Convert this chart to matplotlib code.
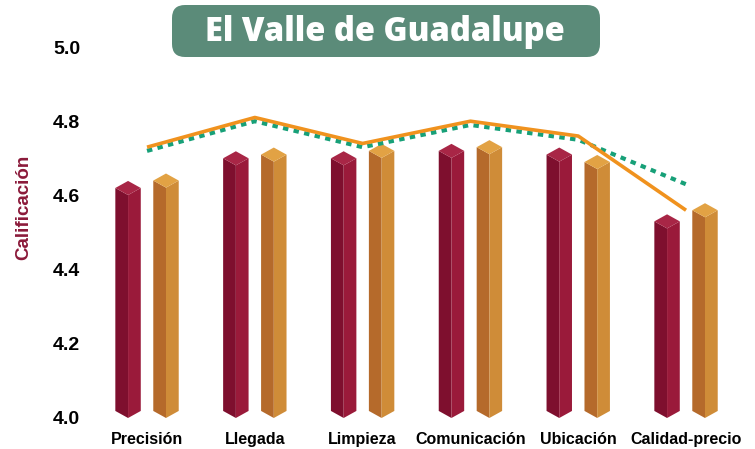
import matplotlib
matplotlib.use('Agg')
import matplotlib.pyplot as plt
from matplotlib.patches import FancyBboxPatch
from matplotlib.transforms import IdentityTransform

# Datos
categorias = ['Precisión', 'Llegada', 'Limpieza', 'Comunicación', 'Ubicación', 'Calidad-precio']
barras_rojas = [4.62, 4.70, 4.70, 4.72, 4.71, 4.53]
barras_naranjas = [4.64, 4.71, 4.72, 4.73, 4.69, 4.56]
linea_naranja = [4.73, 4.81, 4.74, 4.80, 4.76, 4.56]
linea_verde = [4.72, 4.80, 4.73, 4.79, 4.75, 4.63]
yticks = [4.0, 4.2, 4.4, 4.6, 4.8, 5.0]

ROJO = ('#7e0f2e', '#9a1a3a', '#a82646')
NARANJA = ('#b56a2b', '#cf8c38', '#e2a244')


def prisma(ax, c, v, w, d, base, colores):
    # prisma "isometrico": cara izq, cara der y tapa
    izq, der, tapa = colores
    top = v - d
    ax.fill([c - w, c, c, c - w], [base + d, base, top, top + d], color=izq, lw=0, zorder=2)
    ax.fill([c, c + w, c + w, c], [base, base + d, top + d, top], color=der, lw=0, zorder=2)
    ax.fill([c, c - w, c, c + w], [top, top + d, top + 2 * d, top + d], color=tapa, lw=0, zorder=2)


fig = plt.figure(figsize=(7.55, 4.49), dpi=100)
ax = fig.add_axes([90 / 755, 31 / 449, 655 / 755, 371 / 449])

x = list(range(len(categorias)))
off, w, d = 0.176, 0.118, 0.019
for i in x:
    prisma(ax, i - off, barras_rojas[i], w, d, 4.0, ROJO)
    prisma(ax, i + off, barras_naranjas[i], w, d, 4.0, NARANJA)

ax.plot(x, linea_verde, color='#17a078', lw=3, dashes=(1.3, 1.3), zorder=3)
ax.plot(x, linea_naranja, color='#f0921e', lw=2.6, zorder=4, solid_capstyle='butt')

ax.set_xlim(-0.529, 5.547)
ax.set_ylim(4.0, 5.0)
ax.set_yticks(yticks)
ax.set_yticklabels([f'{t:.1f}' for t in yticks], fontsize=14, fontweight='bold',
                   family='Liberation Sans')
ax.set_xticks(x)
ax.set_xticklabels(categorias, fontsize=11.5, fontweight='bold', family='Liberation Sans')
ax.tick_params(axis='x', length=0, pad=10)
ax.tick_params(axis='y', length=0, pad=7)
for s in ax.spines.values():
    s.set_visible(False)
ax.patch.set_alpha(0)

fig.text(24 / 755, 1 - 207 / 449, 'Calificación', rotation=90, color='#8b1a3a',
         fontsize=13.5, fontweight='bold', family='Liberation Sans', ha='center', va='center')

# caja del titulo (en pixeles)
caja = FancyBboxPatch((172, 449 - 57), 428, 52, boxstyle='round,pad=0,rounding_size=13',
                      transform=IdentityTransform(), facecolor='#5b8b79', edgecolor='none')
fig.patches.append(caja)
fig.text(385 / 755, 1 - 32 / 449, 'El Valle de Guadalupe', color='white', fontsize=23.5,
         fontweight=800, family='Open Sans', ha='center', va='center')

fig.savefig('out.png', dpi=100)
